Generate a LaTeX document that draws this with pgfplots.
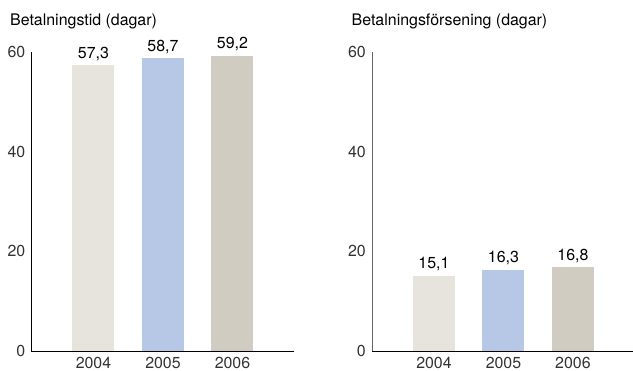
\documentclass[border=0pt]{standalone}
\usepackage{pgfplots}
\pgfplotsset{compat=1.18}
\usepackage{fontspec}
\setmainfont{TeX Gyre Heros}

\definecolor{bar04}{HTML}{E7E4DE}
\definecolor{bar05}{HTML}{B7C8E6}
\definecolor{bar06}{HTML}{D0CCC2}
\definecolor{ticktext}{HTML}{333333}

\newcommand{\chartfont}{\fontsize{16}{19}\selectfont}

% Betalningstid (dagar)
\pgfplotstableread{
x year value
0 2004 57.3
1 2005 58.7
2 2006 59.2
}\tidtable
% Betalningsförsening (dagar)
\pgfplotstableread{
x year value
0 2004 15.1
1 2005 16.3
2 2006 16.8
}\forseningtable

\pgfplotsset{
  panel/.style={
    scale only axis,
    width=262bp, height=299bp,
    anchor=south west,
    xmin=-0.892, xmax=2.878,
    ymin=0, ymax=60,
    ytick={0,20,40,60},
    xtick={0,1,2},
    xticklabels={2004,2005,2006},
    axis x line=bottom,
    axis y line=left,
    axis line style={-, line width=0.9bp},
    tick style={draw=none},
    /pgf/number format/assume math mode=true,
    ticklabel style={font=\chartfont, text=ticktext},
    yticklabel style={xshift=-0.5bp},
    xticklabel style={yshift=-1bp},
    clip=false,
    bar width=42bp,
    nodes near coords,
    every node near coord/.append style={
      font=\chartfont, anchor=base, yshift=7bp,
      inner sep=0pt, text=black,
      /pgf/number format/.cd, fixed, fixed zerofill, precision=1, use comma,
      assume math mode=true},
  },
}

\begin{document}
\begin{tikzpicture}
\path[use as bounding box] (0,0) rectangle (633bp,371bp);

\begin{axis}[panel, at={(31.5bp,20bp)}]
  \addplot[ybar, fill=bar04, draw=none] table[x=x, y=value, restrict expr to domain={\thisrow{x}}{0:0}] {\tidtable};
  \addplot[ybar, fill=bar05, draw=none] table[x=x, y=value, restrict expr to domain={\thisrow{x}}{1:1}] {\tidtable};
  \addplot[ybar, fill=bar06, draw=none] table[x=x, y=value, restrict expr to domain={\thisrow{x}}{2:2}] {\tidtable};
\end{axis}

\begin{axis}[panel, at={(372bp,20bp)}, width=261bp,
    xmax=2.864,
    y axis line style={draw=black!60}]
  \addplot[ybar, fill=bar04, draw=none] table[x=x, y=value, restrict expr to domain={\thisrow{x}}{0:0}] {\forseningtable};
  \addplot[ybar, fill=bar05, draw=none] table[x=x, y=value, restrict expr to domain={\thisrow{x}}{1:1}] {\forseningtable};
  \addplot[ybar, fill=bar06, draw=none] table[x=x, y=value, restrict expr to domain={\thisrow{x}}{2:2}] {\forseningtable};
\end{axis}

\node[anchor=base west, inner sep=0pt, font=\chartfont] at (10bp,345bp) {Betalningstid (dagar)};
\node[anchor=base west, inner sep=0pt, font=\chartfont] at (351.5bp,345bp) {Betalningsförsening (dagar)};
\end{tikzpicture}
\end{document}
